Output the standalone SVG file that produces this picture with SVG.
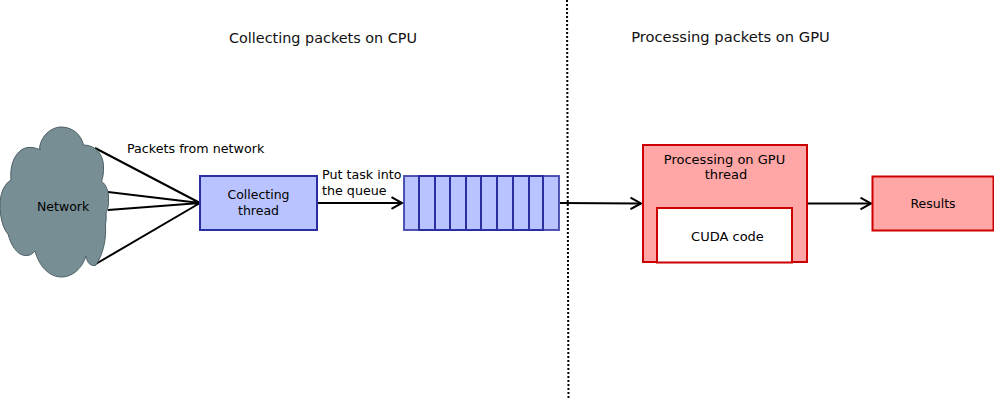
<svg xmlns="http://www.w3.org/2000/svg" width="994" height="402" viewBox="0 0 994 402">
<style>
text{font-family:"DejaVu Sans",sans-serif;font-size:12.5px;fill:#000}
.h{font-size:14.4px;fill:#111}
.w{font-size:12.7px}
.x{font-size:13px}
.b{fill:#b9c3ff;stroke:#2a2fa0;stroke-width:2}
.r{fill:#ffa6a6;stroke:#cc0000;stroke-width:2}
.c{fill:none;stroke:#000;stroke-width:2}
.m{text-anchor:middle}
</style>
<defs><marker id="a" markerUnits="userSpaceOnUse" markerWidth="14" markerHeight="14" refX="11.500" refY="7" orient="auto"><path d="M1 1.200L11.500 7L1 12.800" fill="none" stroke="#000" stroke-width="2"/></marker></defs>
<rect width="994" height="402" fill="#fff"/>
<text class="h m" x="323" y="42.500">Collecting packets on CPU</text>
<text class="h m" x="730.500" y="41.500" style="font-size:14.700px">Processing packets on GPU</text>
<path d="M567 0L568.500 400" fill="none" stroke="#000" stroke-width="2" stroke-dasharray="2 2"/>
<g id="connectors">
<path class="c" d="M95 148L200 203M108 192L200 203M108 210L200 203M94 265L200 203"/>
<path class="c" d="M317 203H402" marker-end="url(#a)"/>
<path class="c" d="M560 203L641 203.500" marker-end="url(#a)"/>
<path class="c" d="M808 203.500H871" marker-end="url(#a)"/>
</g>
<g id="network">
<path d="M39.500 148C41 136 51 127 61 127C72 127 81 134 83.500 145C96 145 104 155 103.500 168C103.500 173 103 178 101.500 181.500C106 184 109 192 108.500 200C108.500 204 108.500 208 106 213C106.500 218 106 221 105.500 224C106.500 240 103 254 96 265C91 267 87 263 86 256C82 269 72 277 61.500 277C49 277 39 266 35 251C30 258 15 260 8 234C3 229 0 217 0 205C0 194 4 184 11 180C9 160 20 140 40.500 150Z" fill="#778e95" stroke="#4c6065" stroke-width="1"/>
<text x="37" y="211">Network</text>
</g>
<g id="collecting-thread">
<rect class="b" x="200" y="176" width="117" height="54"/>
<text class="m" x="258.500" y="199">Collecting</text><text class="m" x="258.500" y="215">thread</text>
</g>
<text id="label-packets" class="w" x="127" y="153">Packets from network</text>
<text id="label-put" class="w" x="322" y="179">Put task into</text><text class="w" x="322" y="195">the queue</text>
<g id="queue">
<rect class="b" x="404" y="176" width="155" height="54" stroke-opacity=".8"/>
<path d="M419 176V230H543V176ZM435 176V230M450 176V230M466 176V230M481 176V230M497 176V230M513 176V230M529 176V230" fill="none" stroke="#2a2fa0" stroke-width="2"/>
</g>
<g id="gpu-thread">
<rect class="r" x="643" y="145" width="164" height="117"/>
<text class="m x" x="724.500" y="163.500">Processing on GPU</text><text class="m x" x="726" y="178.500">thread</text>
</g>
<g id="cuda-code">
<rect x="657" y="208" width="135" height="54.500" fill="#fff" stroke="#cc0000" stroke-width="2"/>
<text class="m x" x="727.500" y="241">CUDA code</text>
</g>
<g id="results">
<rect class="r" x="872.500" y="176.500" width="121" height="54"/>
<text class="m" x="933" y="208">Results</text>
</g>
</svg>
